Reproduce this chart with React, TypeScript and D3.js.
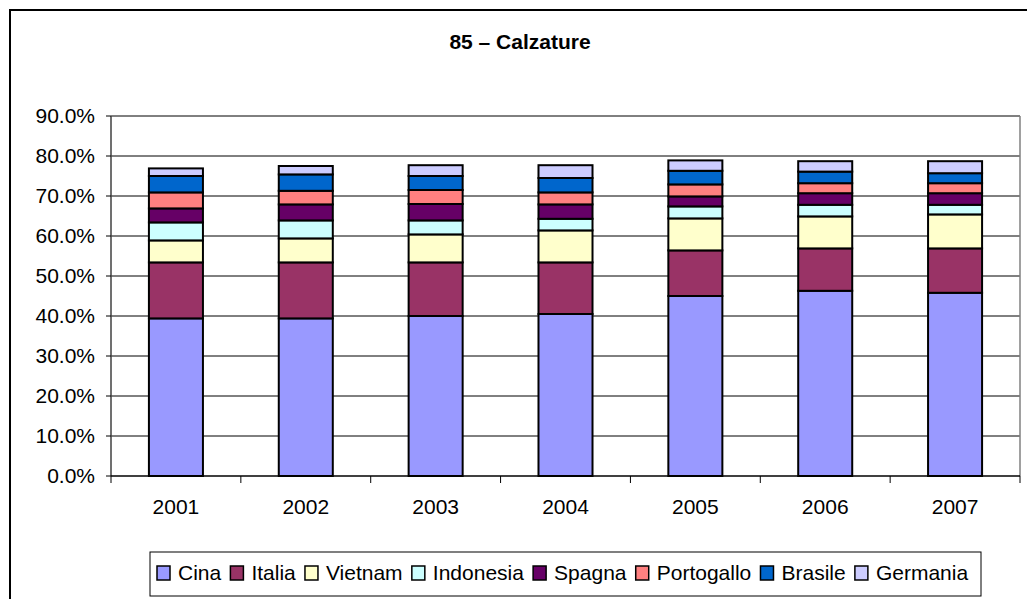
import React, { useEffect, useRef } from 'react';
import * as d3 from 'd3';

const years = ['2001', '2002', '2003', '2004', '2005', '2006', '2007'];

// shares (%) per country, bottom to top
const cina = [39.4, 39.4, 40.0, 40.5, 45.0, 46.3, 45.8];
const italia = [14.0, 14.0, 13.4, 12.9, 11.4, 10.6, 11.1];
const vietnam = [5.5, 6.0, 7.0, 8.0, 8.0, 8.0, 8.5];
const indonesia = [4.5, 4.5, 3.5, 2.9, 3.0, 2.9, 2.4];
const spagna = [3.5, 4.0, 4.1, 3.6, 2.5, 2.9, 2.9];
const portogallo = [4.0, 3.4, 3.5, 3.0, 3.0, 2.5, 2.5];
const brasile = [4.1, 4.1, 3.5, 3.6, 3.4, 2.9, 2.5];
const germania = [1.9, 2.1, 2.7, 3.2, 2.6, 2.6, 3.0];

const countries = ['Cina', 'Italia', 'Vietnam', 'Indonesia', 'Spagna', 'Portogallo', 'Brasile', 'Germania'];
const colors = ['#9999FF', '#993366', '#FFFFCC', '#CCFFFF', '#660066', '#FF8080', '#0066CC', '#CCCCFF'];
const yTicks = [0, 10, 20, 30, 40, 50, 60, 70, 80, 90];

const FONT = '"Liberation Sans", Arial, sans-serif';

function Chart() {
  const svgRef = useRef<SVGSVGElement>(null);

  useEffect(() => {
    const svg = d3.select(svgRef.current);
    svg.selectAll('*').remove();

    const plot = { left: 111, right: 1020, top: 116, bottom: 476 };
    const series = [cina, italia, vietnam, indonesia, spagna, portogallo, brasile, germania];

    const rows = years.map((y, i) => {
      const r: any = { year: y };
      countries.forEach((c, k) => { r[c] = series[k][i]; });
      return r;
    });
    const stacked = d3.stack().keys(countries)(rows);

    const x = d3.scaleBand().domain(years).range([plot.left, plot.right])
      .paddingInner(0.584).paddingOuter(0.292);
    const y = d3.scaleLinear().domain([0, 90]).range([plot.bottom, plot.top]);

    // outer frame
    svg.append('rect')
      .attr('x', 10).attr('y', 10).attr('width', 1030).attr('height', 600)
      .attr('fill', '#fff').attr('stroke', '#000').attr('stroke-width', 2);

    svg.append('text')
      .attr('x', 520).attr('y', 49)
      .attr('text-anchor', 'middle')
      .style('font-family', FONT).style('font-size', '21px').style('font-weight', 'bold')
      .text('85 – Calzature');

    // gridlines
    svg.append('g').selectAll('line')
      .data(yTicks.slice(1))
      .enter().append('line')
      .attr('x1', plot.left).attr('x2', plot.right)
      .attr('y1', d => y(d)).attr('y2', d => y(d))
      .attr('stroke', '#000').attr('stroke-width', 1);

    // plot frame (right side)
    svg.append('line')
      .attr('x1', plot.right).attr('x2', plot.right)
      .attr('y1', plot.top).attr('y2', plot.bottom)
      .attr('stroke', '#808080').attr('stroke-width', 1.5);

    // bars
    svg.append('g').selectAll('g')
      .data(stacked)
      .enter().append('g')
      .attr('fill', (d, i) => colors[i])
      .selectAll('rect')
      .data(d => d)
      .enter().append('rect')
      .attr('x', d => x(d.data.year as string)!)
      .attr('width', x.bandwidth())
      .attr('y', d => y(d[1]))
      .attr('height', d => y(d[0]) - y(d[1]))
      .attr('stroke', '#000').attr('stroke-width', 2);

    // y axis
    const yAxis = svg.append('g');
    yAxis.append('line')
      .attr('x1', plot.left).attr('x2', plot.left)
      .attr('y1', plot.top).attr('y2', plot.bottom)
      .attr('stroke', '#404040').attr('stroke-width', 1.5);
    yAxis.selectAll('.tick')
      .data(yTicks)
      .enter().append('line')
      .attr('x1', plot.left - 5).attr('x2', plot.left)
      .attr('y1', d => y(d)).attr('y2', d => y(d))
      .attr('stroke', '#000');
    yAxis.selectAll('text')
      .data(yTicks)
      .enter().append('text')
      .attr('x', 95).attr('y', d => y(d) + 7)
      .attr('text-anchor', 'end')
      .style('font-family', FONT).style('font-size', '21px')
      .text(d => d.toFixed(1) + '%');

    // x axis
    const xAxis = svg.append('g');
    xAxis.append('line')
      .attr('x1', plot.left).attr('x2', plot.right)
      .attr('y1', plot.bottom).attr('y2', plot.bottom)
      .attr('stroke', '#000').attr('stroke-width', 1.5);
    const step = x.step();
    xAxis.selectAll('.tick')
      .data(d3.range(years.length + 1))
      .enter().append('line')
      .attr('x1', i => plot.left + i * step).attr('x2', i => plot.left + i * step)
      .attr('y1', plot.bottom).attr('y2', plot.bottom + 7)
      .attr('stroke', '#000');
    xAxis.selectAll('text')
      .data(years)
      .enter().append('text')
      .attr('x', d => x(d)! + x.bandwidth() / 2).attr('y', 514)
      .attr('text-anchor', 'middle')
      .style('font-family', FONT).style('font-size', '21px')
      .text(d => d);

    // legend
    const legend = svg.append('g');
    legend.append('rect')
      .attr('x', 150).attr('y', 552).attr('width', 831).attr('height', 44)
      .attr('fill', '#fff').attr('stroke', '#000').attr('stroke-width', 1);
    let lx = 157;
    countries.forEach((c, i) => {
      legend.append('rect')
        .attr('x', lx).attr('y', 566).attr('width', 13).attr('height', 14)
        .attr('fill', colors[i]).attr('stroke', '#000').attr('stroke-width', 1.5);
      const t = legend.append('text')
        .attr('x', lx + 21).attr('y', 580)
        .style('font-family', FONT).style('font-size', '21px')
        .text(c);
      const w = (t.node() as SVGTextElement).getComputedTextLength();
      lx += 21 + w + 9.2;
    });
  }, []);

  return <svg ref={svgRef} width={1027} height={599} style={{ display: 'block' }} />;
}

export default function App() {
  return (
    <div style={{ position: 'absolute', left: 0, top: 0, width: 1027, height: 599, overflow: 'hidden' }}>
      <Chart />
    </div>
  );
}
